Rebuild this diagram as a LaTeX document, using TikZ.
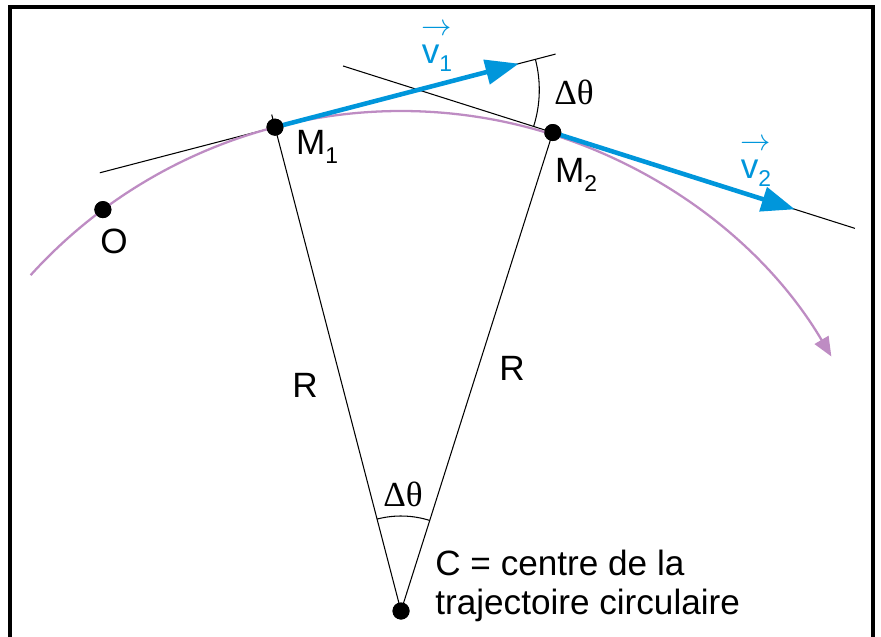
\documentclass[tikz,border=0pt]{standalone}
\usepackage{amsmath}
\usepackage{fontspec}
\setmainfont{Liberation Sans}
\newfontfamily\greekfont{Liberation Serif}
\usetikzlibrary{arrows.meta}
\usetikzlibrary{calc}
\usetikzlibrary{positioning}
\definecolor{vecblue}{RGB}{0,150,219}
\definecolor{trajpurple}{RGB}{190,140,195}
\newcommand{\lowsub}[1]{\raisebox{-0.45ex}{\fontsize{13}{13}\selectfont #1}}
\newcommand{\vecv}[1]{\rlap{\raisebox{0.8em}{\fontsize{16}{16}\selectfont$\rightarrow$}}v\lowsub{#1}}

\begin{document}
\begin{tikzpicture}[
        x=0.02cm, y=0.02cm,
        every node/.style={font=\fontsize{20}{22.2}\selectfont, inner sep=0pt},
        dot/.style={circle, fill=black, minimum size=0.34cm, inner sep=0pt},
        thinline/.style={black, line width=0.6pt},
        vec/.style={vecblue, line width=2.6pt, -{Triangle[length=19pt, width=14pt]}},
        traj/.style={trajpurple, line width=1.3pt, -{Triangle[length=11pt, width=9pt]}},
        vlabel/.style={text=vecblue},
        anglabel/.style={font=\greekfont\fontsize{20}{22}\selectfont},
        frame/.style={line width=1.8pt}
    ]
        \useasboundingbox (0,0) rectangle (881,636);
        \draw[frame] (10,-10) -- (10,629) -- (873,629) -- (873,-10);

        % Points on the circle
        \node[dot] (C) at (401,25) {};
        \node[dot] (M1) at ([shift={(104.6:500)}]C.center) {};
        \node[dot] (M2) at ([shift={(72.4:502)}]C.center) {};
        \node[dot] (O) at ([shift={(126.6:500)}]C.center) {};

        % Tangents and vectors
        \coordinate (t1a) at ([shift={(194.6:181)}]M1.center);
        \coordinate (t1b) at ([shift={(14.6:290)}]M1.center);
        \coordinate (v1end) at ([shift={(14.6:252)}]M1.center);
        \coordinate (t2a) at ([shift={(162.4:220)}]M2.center);
        \coordinate (t2b) at ([shift={(-17.6:317)}]M2.center);
        \coordinate (v2end) at ([shift={(-17.6:254)}]M2.center);
        \coordinate (r1end) at ([shift={(104.6:513)}]C.center);
        \coordinate (T) at (intersection of t1a--t1b and t2a--t2b);

        \draw[thinline] (t1a) -- (t1b);
        \draw[thinline] (t2a) -- (t2b);
        \draw[thinline] (C.center) -- (r1end);
        \draw[thinline] (C.center) -- (M2.center);

        % Angles
        \draw[thinline] ([shift={(14.6:121)}]T) arc[start angle=14.6, end angle=-17.6, radius=121];
        \draw[thinline] ([shift={(104.6:95)}]C.center) arc[start angle=104.6, end angle=72.4, radius=95];

        % Trajectory
        \draw[traj] ([shift={(137.8:500)}]C.center) arc[start angle=137.8, end angle=30.6, radius=500];

        \draw[vec] (M1.center) -- (v1end);
        \draw[vec] (M2.center) -- (v2end);

        % redraw dots on top
        \node[dot] at (M1) {};
        \node[dot] at (M2) {};
        \node[dot] at (O) {};
        \node[dot] at (C) {};

        % Labels
        \node[vlabel] (v1lab) at (437,588) {\vecv{1}};
        \node[vlabel] (v2lab) at (756,473) {\vecv{2}};
        \node (M1lab) at (317,489) {M\lowsub{1}};
        \node (M2lab) at (576,461) {M\lowsub{2}};
        \node (Olab) at (114,395) {O};
        \node (R1lab) at (305,251) {R};
        \node (R2lab) at (512,268) {R};
        \node[anglabel] (dtop) at (574,544) {Δθ};
        \node[anglabel] (dbot) at (403,142) {Δθ};
        \node[anchor=west, align=left] (Clab) at (435,50) {C = centre de la\\trajectoire circulaire};
    \end{tikzpicture}
\end{document}
